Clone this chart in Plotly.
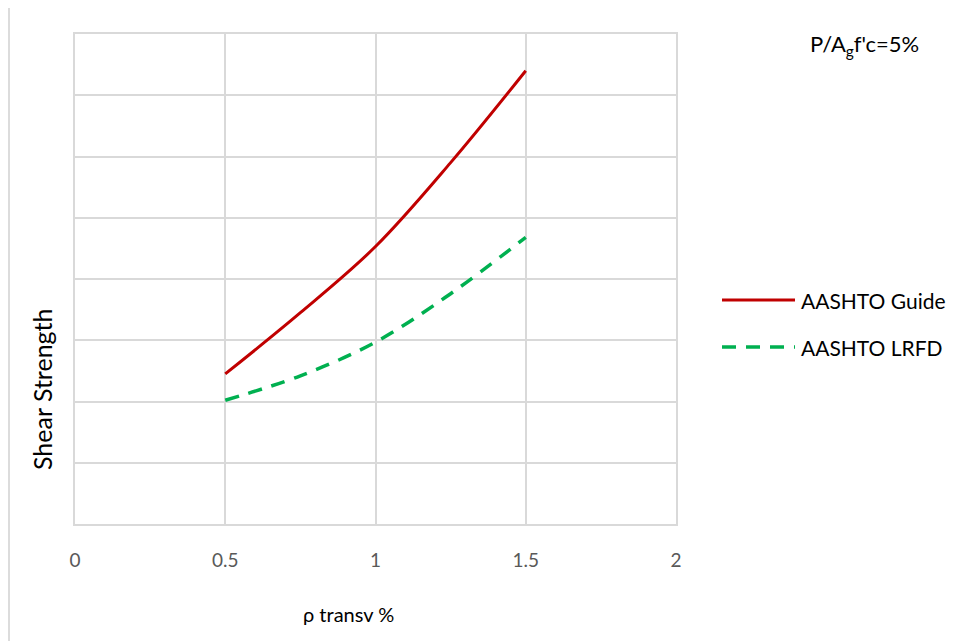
import plotly.graph_objects as go

x_vals = [0.5, 0.75, 1.0, 1.25, 1.5]
guide_vals = [2.45, 3.45, 4.53, 5.90, 7.40]
lrfd_vals = [2.02, 2.42, 2.97, 3.76, 4.68]
x_ticks = [0, 0.5, 1, 1.5, 2]
x_tick_labels = ["0", "0.5", "1", "1.5", "2"]

FONT = "Lato"
W, H = 957, 641
OFF = 8  # page body margin
L, R, T, B = 75 - OFF, 676 - OFF, 34 - OFF, 524 - OFF

def px(xp):
    return (xp - OFF - L) / (R - L)

def py(yp):
    return (B - (yp - OFF)) / (B - T)

fig = go.Figure()
fig.add_trace(go.Scatter(x=x_vals, y=guide_vals, mode="lines", name="AASHTO Guide",
                         line=dict(color="#C00000", width=3, shape="spline"), showlegend=False))
fig.add_trace(go.Scatter(x=x_vals, y=lrfd_vals, mode="lines", name="AASHTO LRFD",
                         line=dict(color="#00B050", width=3.5, shape="spline", dash="14px,10px"),
                         showlegend=False))

shapes = [
    dict(type="line", xref="paper", yref="paper", x0=px(722), x1=px(795), y0=py(300), y1=py(300),
         line=dict(color="#C00000", width=3)),
    dict(type="line", xref="paper", yref="paper", x0=px(722), x1=px(795), y0=py(347), y1=py(347),
         line=dict(color="#00B050", width=3.5, dash="14px,10px")),
    dict(type="line", xref="paper", yref="paper", x0=px(9), x1=px(9), y0=py(8), y1=py(660),
         line=dict(color="#d0d0d0", width=1.5)),
]

annotations = [
    dict(text="AASHTO Guide", x=px(799), y=py(300), xref="paper", yref="paper",
         xanchor="left", yanchor="middle", showarrow=False, font=dict(size=21, color="#000000", family=FONT)),
    dict(text="AASHTO LRFD", x=px(799), y=py(347), xref="paper", yref="paper",
         xanchor="left", yanchor="middle", showarrow=False, font=dict(size=21, color="#000000", family=FONT)),
    dict(text="P/A<sub>g</sub>f'c=5%", x=px(808), y=py(45), xref="paper", yref="paper",
         xanchor="left", yanchor="middle", showarrow=False, font=dict(size=22, color="#000000", family=FONT)),
    dict(text="Shear Strength", x=px(42), y=py(389), xref="paper", yref="paper", textangle=-90,
         xanchor="center", yanchor="middle", showarrow=False, font=dict(size=25, color="#000000", family=FONT)),
    dict(text="ρ transv %", x=px(348), y=py(614), xref="paper", yref="paper",
         xanchor="center", yanchor="middle", showarrow=False, font=dict(size=20, color="#000000", family=FONT)),
]

fig.update_layout(
    width=W, height=H,
    margin=dict(l=L, r=W - R, t=T, b=H - B),
    paper_bgcolor="white", plot_bgcolor="white",
    font=dict(family=FONT, size=18, color="#595959"),
    shapes=shapes, annotations=annotations,
    xaxis=dict(range=[0, 2], tickvals=x_ticks, ticktext=x_tick_labels, showgrid=True,
               gridcolor="#d9d9d9", gridwidth=1.5, zeroline=False, showline=True, mirror=True,
               linecolor="#d9d9d9", linewidth=1.5, ticks="", ticklabelstandoff=18,
               tickfont=dict(size=19, color="#595959", family=FONT)),
    yaxis=dict(range=[0, 8], dtick=1, showticklabels=False, showgrid=True, gridcolor="#d9d9d9",
               gridwidth=1.5, zeroline=False, showline=True, mirror=True, linecolor="#d9d9d9",
               linewidth=1.5, ticks=""),
)

fig.write_html("out.html")
